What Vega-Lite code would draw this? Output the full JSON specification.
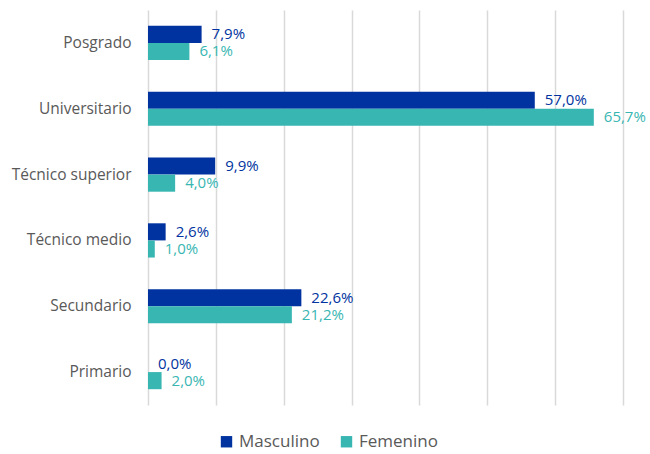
{
  "$schema": "https://vega.github.io/schema/vega-lite/v6.json",
  "width": 475,
  "height": 395,
  "autosize": "none",
  "padding": {"left": 148, "top": 10, "right": 27, "bottom": 49},
  "background": "white",
  "config": {
    "view": {"stroke": null},
    "font": "Open Sans",
    "locale": {"number": {"decimal": ",", "thousands": ".", "grouping": [3], "currency": ["", " €"]}}
  },
  "data": {
    "values": [
      {"nivel": "Posgrado", "sexo": "Masculino", "valor": 0.079},
      {"nivel": "Posgrado", "sexo": "Femenino", "valor": 0.061},
      {"nivel": "Universitario", "sexo": "Masculino", "valor": 0.570},
      {"nivel": "Universitario", "sexo": "Femenino", "valor": 0.657},
      {"nivel": "Técnico superior", "sexo": "Masculino", "valor": 0.099},
      {"nivel": "Técnico superior", "sexo": "Femenino", "valor": 0.040},
      {"nivel": "Técnico medio", "sexo": "Masculino", "valor": 0.026},
      {"nivel": "Técnico medio", "sexo": "Femenino", "valor": 0.010},
      {"nivel": "Secundario", "sexo": "Masculino", "valor": 0.226},
      {"nivel": "Secundario", "sexo": "Femenino", "valor": 0.212},
      {"nivel": "Primario", "sexo": "Masculino", "valor": 0.000},
      {"nivel": "Primario", "sexo": "Femenino", "valor": 0.020}
    ]
  },
  "encoding": {
    "y": {
      "field": "nivel", "type": "nominal",
      "sort": ["Posgrado", "Universitario", "Técnico superior", "Técnico medio", "Secundario", "Primario"],
      "scale": {"paddingInner": 0.48, "paddingOuter": 0.24},
      "axis": {"title": null, "domain": false, "ticks": false, "labelFontSize": 15.5, "labelColor": "#595959", "labelPadding": 17, "labelFont": "Open Sans"}
    },
    "yOffset": {"field": "sexo", "type": "nominal", "sort": ["Masculino", "Femenino"], "scale": {"paddingInner": 0}},
    "x": {
      "field": "valor", "type": "quantitative",
      "scale": {"domain": [0, 0.7], "nice": false},
      "axis": {"title": null, "labels": false, "ticks": false, "domain": false, "values": [0, 0.1, 0.2, 0.3, 0.4, 0.5, 0.6, 0.7], "gridColor": "#d9d9d9", "gridWidth": 1.5}
    }
  },
  "layer": [
    {
      "mark": {"type": "bar"},
      "encoding": {
        "color": {
          "field": "sexo", "type": "nominal",
          "scale": {"domain": ["Masculino", "Femenino"], "range": ["#0033a0", "#38b6b2"]},
          "legend": {
            "title": null, "orient": "none", "direction": "horizontal",
            "legendX": 70, "legendY": 423,
            "symbolType": "square", "symbolSize": 130, "symbolStrokeWidth": 0,
            "labelFontSize": 17, "labelColor": "#595959", "labelFont": "Open Sans",
            "columnPadding": 18, "symbolOffset": 0, "labelOffset": 4
          }
        }
      }
    },
    {
      "mark": {"type": "text", "align": "left", "baseline": "middle", "dx": 10, "fontSize": 15},
      "encoding": {
        "text": {"field": "valor", "type": "quantitative", "format": ".1%"},
        "color": {"field": "sexo", "type": "nominal", "legend": null}
      }
    }
  ]
}
